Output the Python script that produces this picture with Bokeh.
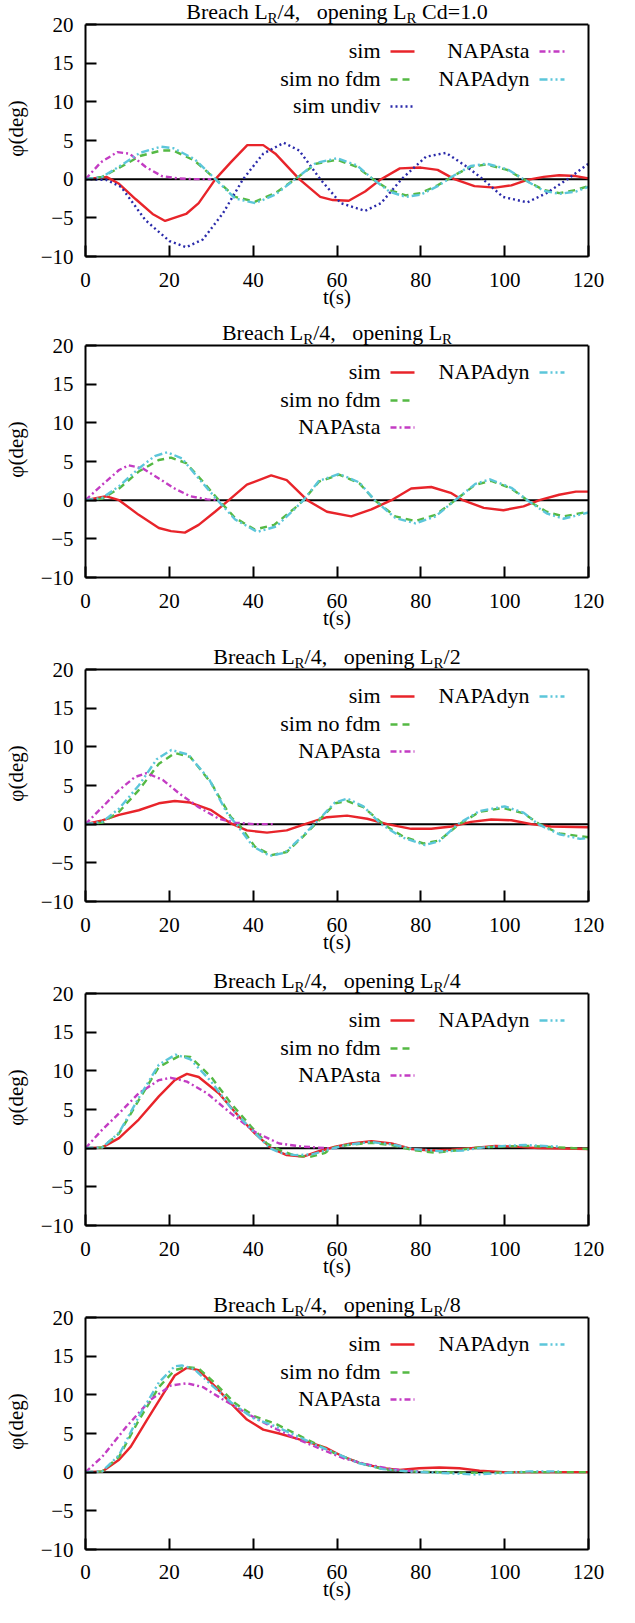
from bokeh.plotting import figure
from bokeh.layouts import column
from bokeh.models import Range1d, FixedTicker, Label, Span, LinearAxis
from bokeh.embed import file_html
from bokeh.resources import INLINE

# ---------------- data ----------------
X_TICKS = [0, 20, 40, 60, 80, 100, 120]
Y_TICKS = [-10, -5, 0, 5, 10, 15, 20]

# Panel 1: Breach LR/4, opening LR Cd=1.0
P1_SIM_T = [0, 5, 8, 12, 16, 19, 24, 27, 31, 34.7, 38.6, 42.4, 45.3, 51, 56, 59, 62.8, 66.7, 70.5, 75, 80, 84, 88, 92.8, 97.7, 101.6, 105.4, 109.3, 113, 117, 120]
P1_SIM_Y = [0, 0.3, -0.6, -2.6, -4.5, -5.4, -4.5, -3.1, 0, 2.2, 4.4, 4.4, 3.3, 0, -2.3, -2.7, -2.8, -1.6, 0, 1.4, 1.5, 1.2, 0, -0.9, -1.1, -0.8, -0.1, 0.3, 0.5, 0.4, 0.1]
P1_NOFDM_T = [0, 4, 8.5, 13, 18, 21, 26, 31, 35.7, 40.5, 45.3, 50, 55, 60, 64.7, 68.6, 72.5, 76.4, 80, 84, 88, 91.9, 95.7, 100.6, 104.5, 109.3, 113, 117, 120]
P1_NOFDM_Y = [0, 0.3, 1.6, 3.0, 3.7, 3.7, 2.4, 0, -2.3, -2.9, -1.8, 0, 2.0, 2.5, 1.6, 0, -1.4, -2.1, -1.8, -0.8, 0.5, 1.6, 1.9, 1.2, 0, -1.4, -1.8, -1.4, -0.9]
P1_UNDIV_T = [0, 5, 8.5, 14.3, 20, 24, 28, 32.8, 37.6, 42.4, 47.3, 51, 56, 60.9, 66.7, 70.5, 75.4, 81.2, 86, 91, 94.8, 99.6, 105.4, 110, 115, 120]
P1_UNDIV_Y = [0, -0.1, -1.0, -5.3, -8.0, -8.8, -7.8, -4.4, 0, 3.3, 4.7, 3.7, 0, -3.1, -4.1, -3.1, 0, 2.9, 3.4, 1.6, 0, -2.3, -3.0, -1.8, 0, 2.0]
P1_STA_T = [0, 3.7, 7.6, 10.5, 14.3, 18.2, 22, 26, 30]
P1_STA_Y = [0, 2.2, 3.5, 3.3, 1.6, 0.4, 0.1, 0, 0]
P1_DYN_T = [0, 4, 8.5, 13, 18, 21, 26, 31, 35.7, 40.5, 45.3, 50, 55, 60, 64.7, 68.6, 72.5, 76.4, 80, 84, 88, 91.9, 95.7, 100.6, 104.5, 109.3, 113, 117, 120]
P1_DYN_Y = [0, 0.3, 1.8, 3.4, 4.2, 4.0, 2.6, 0, -2.5, -3.1, -2.0, 0, 2.1, 2.7, 1.8, 0, -1.6, -2.3, -2.0, -0.9, 0.5, 1.7, 2.0, 1.3, 0, -1.5, -1.9, -1.6, -1.0]

# Panel 2: opening LR
P2_SIM_T = [0, 5, 8, 12.7, 17.5, 20.4, 23.7, 27, 30.9, 34.2, 38.5, 44.3, 48, 52.9, 57.6, 63.4, 68.2, 73, 77.7, 82.5, 87.3, 90, 95, 99.7, 104.5, 108.3, 113, 117, 120]
P2_SIM_Y = [0, 0.5, 0, -1.9, -3.6, -4.0, -4.2, -3.2, -1.5, 0, 2.0, 3.2, 2.6, 0, -1.5, -2.1, -1.2, 0, 1.5, 1.7, 0.9, 0, -1.0, -1.3, -0.8, 0, 0.7, 1.1, 1.1]
P2_NOFDM_T = [0, 4, 8, 12.7, 17.5, 20.4, 24, 28, 31.8, 35.7, 40.4, 45, 50, 52, 55.7, 60.5, 65.3, 69, 73.9, 78.7, 83.5, 88.2, 93, 96.8, 101.6, 105.4, 110, 114, 120]
P2_NOFDM_Y = [0, 0.2, 1.5, 3.7, 5.2, 5.5, 4.8, 2.4, 0, -2.3, -3.8, -3.2, -1.0, 0, 2.4, 3.3, 2.2, 0, -2.1, -2.7, -1.9, 0, 2.0, 2.5, 1.5, 0, -1.5, -2.1, -1.5]
P2_STA_T = [0, 4, 8, 10.3, 13.7, 17.5, 21.3, 25, 29, 32]
P2_STA_Y = [0, 2.0, 3.9, 4.5, 4.1, 2.8, 1.5, 0.5, 0.1, 0]
P2_DYN_T = [0, 4, 8, 12.7, 16.5, 19.5, 23, 27, 31.5, 35.7, 41, 45.5, 50, 52, 55.7, 60.5, 65.3, 69, 73.9, 78.7, 83.5, 88.2, 93, 96.5, 101.6, 105.4, 110, 114, 120]
P2_DYN_Y = [0, 0.3, 1.8, 4.1, 5.7, 6.2, 5.4, 2.8, 0, -2.5, -4.1, -3.4, -1.1, 0, 2.5, 3.4, 2.3, 0, -2.3, -3.0, -2.1, 0, 2.1, 2.7, 1.6, 0, -1.7, -2.4, -1.6]

# Panel 3: opening LR/2
P3_SIM_T = [0, 4, 8, 12.7, 17.5, 21.3, 25, 30, 34.7, 38.5, 43.3, 48, 52.9, 57.6, 62.4, 67.2, 72, 77.7, 82.5, 87.3, 92, 96.8, 101.6, 106.4, 111, 120]
P3_SIM_Y = [0, 0.5, 1.2, 1.8, 2.7, 3.0, 2.8, 1.8, 0.1, -0.8, -1.1, -0.8, 0.1, 0.9, 1.1, 0.7, 0, -0.6, -0.6, -0.3, 0.3, 0.6, 0.5, 0, -0.3, -0.4]
P3_NOFDM_T = [0, 4, 8, 12.7, 17.5, 21.3, 25, 30, 34.7, 36.6, 40.4, 44.3, 48, 51.9, 55.7, 59.6, 62.4, 66.3, 71, 75.8, 80.6, 84.4, 89.2, 94, 99.7, 104.5, 108.3, 113, 120]
P3_NOFDM_Y = [0, 0.2, 1.6, 4.4, 7.8, 9.2, 8.7, 5.3, 0.9, 0, -2.9, -4.0, -3.6, -1.6, 0.5, 2.7, 3.0, 2.2, 0, -1.6, -2.5, -2.1, 0, 1.6, 2.1, 1.4, 0, -1.2, -1.7]
P3_STA_T = [0, 4, 8, 11.8, 14.6, 18.5, 22.3, 27, 31.8, 35.7, 40.4, 45]
P3_STA_Y = [0, 2.2, 4.4, 6.1, 6.6, 5.7, 4.0, 2.2, 0.7, 0.2, 0, 0]
P3_DYN_T = [0, 4, 8, 12.7, 17, 20.5, 24.5, 29.5, 34, 36, 40, 44, 47.5, 51.5, 55.5, 59.5, 62.5, 66.3, 70.5, 75.5, 81, 84.4, 88.8, 94, 100, 104.5, 108, 113, 118, 120]
P3_DYN_Y = [0, 0.3, 2.0, 5.0, 8.4, 9.6, 9.0, 5.8, 1.2, 0, -2.9, -4.1, -3.7, -1.7, 0.5, 2.8, 3.3, 2.3, 0, -1.7, -2.7, -2.2, 0, 1.7, 2.3, 1.5, 0, -1.3, -1.9, -1.8]

# Panel 4: opening LR/4
P4_SIM_T = [0, 4, 8, 12.7, 17.5, 21.3, 24.2, 27, 31.8, 36.6, 40.4, 44.3, 48, 51.9, 55.7, 59.6, 63.4, 68.2, 73, 77.7, 82.5, 87.3, 92, 97.8, 102.6, 108, 120]
P4_SIM_Y = [0, 0.1, 1.3, 3.7, 6.7, 8.8, 9.6, 9.2, 7.1, 4.1, 1.9, 0, -0.9, -1.1, -0.4, 0.2, 0.6, 0.9, 0.6, -0.1, -0.3, -0.2, 0, 0.3, 0.2, 0, -0.1]
P4_NOFDM_T = [0, 4, 8, 12.7, 17.5, 22.3, 25, 30, 34.7, 39.5, 43.3, 46.2, 50, 53.8, 57.2, 58.6, 62.4, 68.2, 73, 77.7, 83.5, 88.2, 94, 99.7, 105.4, 113, 120]
P4_NOFDM_Y = [0, 0.1, 1.9, 6.2, 10.5, 11.9, 11.8, 9.2, 5.8, 2.8, 0.6, -0.2, -1.0, -1.1, -0.6, 0, 0.4, 0.7, 0.4, -0.2, -0.6, -0.3, 0.1, 0.2, 0.3, 0.1, -0.1]
P4_STA_T = [0, 4, 8, 12.7, 17.5, 20.4, 24.2, 29, 34.7, 40.4, 46.2, 51.9, 57.6, 60]
P4_STA_Y = [0, 2.4, 4.5, 7.1, 8.8, 9.1, 8.6, 7.1, 4.5, 2.1, 0.6, 0.2, 0, 0]
P4_DYN_T = [0, 4, 8, 12.7, 17.5, 21.5, 25, 30, 34.7, 40, 44, 46.5, 50, 54, 58, 62, 68, 73, 78, 85, 90, 95, 100, 105, 113]
P4_DYN_Y = [0, 0.1, 2.0, 6.5, 10.8, 12.1, 11.5, 8.6, 5.2, 2.2, 0, -0.6, -0.9, -0.8, -0.2, 0.4, 0.8, 0.5, -0.1, -0.4, -0.3, 0.1, 0.3, 0.4, 0.2]

# Panel 5: opening LR/8
P5_SIM_T = [0, 4, 8, 10.8, 14.6, 18.5, 21.3, 24.2, 27, 30.9, 34.7, 38.5, 42.4, 46.2, 50, 53.8, 57.6, 61.5, 65.3, 71, 74.9, 79.6, 84.4, 89.2, 94, 99.7, 120]
P5_SIM_Y = [0, 0.1, 1.6, 3.3, 6.7, 10.1, 12.5, 13.5, 13.2, 11.1, 8.9, 6.8, 5.5, 5.0, 4.4, 3.8, 3.1, 2.0, 1.2, 0.5, 0.3, 0.5, 0.6, 0.5, 0.2, 0, 0]
P5_NOFDM_T = [0, 4, 8, 12.7, 17.5, 21.3, 24.2, 27, 30.9, 35.7, 40.4, 45.2, 50, 54.8, 59.6, 65.3, 71, 76.8, 84.4, 94, 103.5, 120]
P5_NOFDM_Y = [0, 0.1, 2.0, 6.7, 11.0, 13.2, 13.6, 13.4, 11.5, 8.9, 7.2, 6.3, 5.0, 3.7, 2.4, 1.2, 0.4, 0.1, 0, -0.1, 0, 0]
P5_STA_T = [0, 4, 9.8, 15.6, 20.4, 24.2, 28, 32.8, 38.5, 44.3, 50, 55.7, 61.5, 67.2, 72.9, 78.7, 80]
P5_STA_Y = [0, 2.0, 5.9, 9.4, 11.2, 11.5, 11.0, 9.4, 7.6, 5.9, 4.4, 3.1, 1.8, 1.0, 0.4, 0.1, 0.1]
P5_DYN_T = [0, 4, 8, 12.7, 17.5, 21.3, 23, 26, 30, 35, 40, 45, 50, 55, 60, 65, 71, 77, 85, 93, 100, 106, 113]
P5_DYN_Y = [0, 0.1, 2.2, 7.2, 11.6, 13.7, 13.8, 13.3, 11.3, 8.9, 7.0, 6.0, 4.8, 3.5, 2.4, 1.2, 0.4, 0.1, -0.1, -0.3, -0.1, 0.1, 0.1]

TITLE_SUFFIX = ["Cd=1.0", "", "/2", "/4", "/8"]

# ---------------- styles / layout ----------------
FONT = "Liberation Serif"
FW = 503          # frame width (px)
BOX_H = 232       # height of the plotted box (y -10..20), px
EXT = 24          # extra frame space above the box for the title, px
Y_TOP = 20 + EXT * 30.0 / BOX_H
BORDER_LEFT, BORDER_RIGHT = 79, 37
BORDER_BOTTOM = [65, 68, 68, 68, 58]
XTICK_STANDOFF = [16, 16, 16, 16, 15]
XLABEL_STANDOFF = [-5, -5, -5, -5, -5]
TITLE_MAIN_UP = 13   # px, centre of main title text above box top
TITLE_SUB_UP = 7     # px, centre of subscript above box top

STYLE = {
    "sim": dict(color="#e8242a", dash="solid", width=2.4),
    "sim no fdm": dict(color="#55b944", dash="7 5", width=2.4),
    "sim undiv": dict(color="#2a2aaa", dash="2 3", width=2.4),
    "NAPAsta": dict(color="#c33cc3", dash="6 3 2 3", width=2.4),
    "NAPAdyn": dict(color="#5cc6da", dash="8 3 2 3 2 3", width=2.4),
}

PANELS = [
    {"sim": (P1_SIM_T, P1_SIM_Y), "sim no fdm": (P1_NOFDM_T, P1_NOFDM_Y),
     "sim undiv": (P1_UNDIV_T, P1_UNDIV_Y), "NAPAsta": (P1_STA_T, P1_STA_Y),
     "NAPAdyn": (P1_DYN_T, P1_DYN_Y)},
    {"sim": (P2_SIM_T, P2_SIM_Y), "sim no fdm": (P2_NOFDM_T, P2_NOFDM_Y),
     "NAPAsta": (P2_STA_T, P2_STA_Y), "NAPAdyn": (P2_DYN_T, P2_DYN_Y)},
    {"sim": (P3_SIM_T, P3_SIM_Y), "sim no fdm": (P3_NOFDM_T, P3_NOFDM_Y),
     "NAPAsta": (P3_STA_T, P3_STA_Y), "NAPAdyn": (P3_DYN_T, P3_DYN_Y)},
    {"sim": (P4_SIM_T, P4_SIM_Y), "sim no fdm": (P4_NOFDM_T, P4_NOFDM_Y),
     "NAPAsta": (P4_STA_T, P4_STA_Y), "NAPAdyn": (P4_DYN_T, P4_DYN_Y)},
    {"sim": (P5_SIM_T, P5_SIM_Y), "sim no fdm": (P5_NOFDM_T, P5_NOFDM_Y),
     "NAPAsta": (P5_STA_T, P5_STA_Y), "NAPAdyn": (P5_DYN_T, P5_DYN_Y)},
]

LEGEND_P1 = [("sim", 0, 0), ("sim no fdm", 0, 1), ("sim undiv", 0, 2),
             ("NAPAsta", 1, 0), ("NAPAdyn", 1, 1)]
LEGEND_PN = [("sim", 0, 0), ("sim no fdm", 0, 1), ("NAPAsta", 0, 2),
             ("NAPAdyn", 1, 0)]

LEG_TEXT_RIGHT = [295, 444]   # px from frame left
LEG_SAMPLE = [(305, 329), (454, 479)]
LEG_ROWS = [26, 54, 81]       # px below box top

# Times / Liberation Serif advance widths (per 1000 em)
WIDTHS = {" ": 250, "B": 667, "r": 333, "e": 444, "a": 444, "c": 444, "h": 500,
          "L": 611, "R": 667, "/": 278, ",": 250, "o": 500, "p": 500, "n": 500,
          "i": 278, "g": 500, "C": 667, "d": 500, "=": 564, ".": 250,
          "0": 500, "1": 500, "2": 500, "4": 500, "8": 500}


def tw(s, size):
    return sum(WIDTHS.get(ch, 500) for ch in s) / 1000.0 * size


def px_to_x(px):
    return px / FW * 120.0


def px_to_y(px_below_top):
    return 20.0 - px_below_top / BOX_H * 30.0


def style_axis(ax):
    ax.major_tick_in = 11
    ax.major_tick_out = 0
    ax.minor_tick_line_color = None
    ax.major_tick_line_width = 2
    ax.major_tick_line_color = "black"
    ax.axis_line_color = "black"
    ax.axis_line_width = 2
    ax.major_label_text_font = FONT
    ax.major_label_text_font_size = "21px"
    ax.major_label_text_color = "black"
    ax.axis_label_text_font = FONT
    ax.axis_label_text_font_size = "21px"
    ax.axis_label_text_font_style = "normal"
    ax.axis_label_text_color = "black"


figs = []
for i, panel in enumerate(PANELS):
    p = figure(frame_width=FW, frame_height=BOX_H + EXT,
               x_range=Range1d(0, 120), y_range=Range1d(-10, Y_TOP),
               output_backend="svg", toolbar_location=None,
               min_border_left=BORDER_LEFT, min_border_right=BORDER_RIGHT,
               min_border_top=0, min_border_bottom=BORDER_BOTTOM[i])
    p.xgrid.visible = False
    p.ygrid.visible = False
    p.outline_line_color = None
    p.background_fill_color = "white"
    p.border_fill_color = "white"

    p.xaxis.ticker = FixedTicker(ticks=X_TICKS)
    p.yaxis.ticker = FixedTicker(ticks=Y_TICKS)
    p.yaxis.bounds = (-10, 20)
    p.xaxis.axis_label = "t(s)"
    p.yaxis.axis_label = "φ(deg)"
    style_axis(p.xaxis[0])
    style_axis(p.yaxis[0])
    p.xaxis.major_label_standoff = XTICK_STANDOFF[i]
    p.xaxis.axis_label_standoff = XLABEL_STANDOFF[i]
    p.yaxis.major_label_standoff = 12
    p.yaxis.axis_label_standoff = 10

    # right border of the box
    right = LinearAxis(bounds=(-10, 20), ticker=FixedTicker(ticks=[]),
                       axis_line_color="black", axis_line_width=2,
                       major_tick_line_color=None, minor_tick_line_color=None,
                       major_label_text_font_size="0px")
    p.add_layout(right, "right")
    # top border of the box
    p.add_layout(Span(location=20, dimension="width", line_color="black",
                      line_width=2))
    # zero line
    p.add_layout(Span(location=0, dimension="width", line_color="black",
                      line_width=2, level="underlay"))

    for name in ["sim", "sim no fdm", "sim undiv", "NAPAsta", "NAPAdyn"]:
        if name not in panel:
            continue
        t, y = panel[name]
        st = STYLE[name]
        p.line(t, y, line_color=st["color"], line_width=st["width"],
               line_dash=st["dash"])

    # legend (gnuplot style: text right-aligned, then sample)
    legend = LEGEND_P1 if i == 0 else LEGEND_PN
    for name, col, row in legend:
        st = STYLE[name]
        p.add_layout(Label(x=0, y=20, x_offset=LEG_TEXT_RIGHT[col],
                           y_offset=-LEG_ROWS[row], text=name,
                           text_font=FONT, text_font_size="22px",
                           text_align="right", text_baseline="middle",
                           text_color="black"))
        x0, x1 = LEG_SAMPLE[col]
        yy = px_to_y(LEG_ROWS[row] + 1)
        p.line([px_to_x(x0), px_to_x(x1)], [yy, yy], line_color=st["color"],
               line_width=st["width"], line_dash=st["dash"])

    # title with subscripts (drawn in the space above the box)
    segs = [("Breach L", 22, TITLE_MAIN_UP, 0), ("R", 15, TITLE_SUB_UP, 0),
            ("/4,", 22, TITLE_MAIN_UP, 0),
            ("opening L", 22, TITLE_MAIN_UP, tw("   ", 22)),
            ("R", 15, TITLE_SUB_UP, 0)]
    suf = TITLE_SUFFIX[i]
    if suf:
        gap = tw(" ", 22) if suf[0] != "/" else 0
        segs.append((suf, 22, TITLE_MAIN_UP, gap))
    total = sum(tw(s, sz) + g for s, sz, up, g in segs)
    cur = -total / 2.0
    for s, sz, up, g in segs:
        cur += g
        p.add_layout(Label(x=60, y=20, x_offset=cur, y_offset=up, text=s,
                           text_font=FONT, text_font_size="%dpx" % sz,
                           text_align="left", text_baseline="middle",
                           text_color="black"))
        cur += tw(s, sz)
    figs.append(p)

layout = column(*figs, spacing=0)
open("out.html", "w").write(file_html(layout, INLINE))
